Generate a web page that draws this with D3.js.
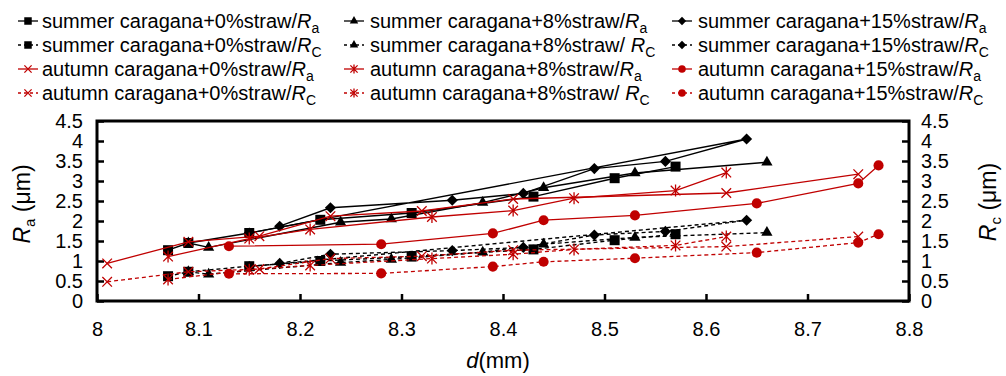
<!DOCTYPE html>
<html>
<head>
<meta charset="utf-8">
<script src="https://cdn.jsdelivr.net/npm/d3@7"></script>
<style>
  body { margin: 0; background: #fff; }
  svg { display: block; font-family: "Liberation Sans", Arial, sans-serif; }
</style>
</head>
<body>
<div id="chart"></div>
<script>
// d (mm) and roughness values, one list per series
const dSummer0 = [8.07, 8.09, 8.15, 8.22, 8.31, 8.43, 8.51, 8.57];
const raSummer0 = [1.27, 1.45, 1.70, 2.03, 2.20, 2.61, 3.07, 3.36];
const rcSummer0 = [0.62, 0.73, 0.87, 1.00, 1.11, 1.29, 1.52, 1.67];

const dSummer8 = [8.09, 8.11, 8.24, 8.29, 8.38, 8.44, 8.53, 8.66];
const raSummer8 = [1.45, 1.34, 1.97, 2.05, 2.46, 2.83, 3.20, 3.47];
const rcSummer8 = [0.73, 0.67, 0.96, 1.04, 1.22, 1.42, 1.59, 1.71];

const dSummer15 = [8.18, 8.23, 8.35, 8.42, 8.49, 8.56, 8.64, 8.15];
const raSummer15 = [1.87, 2.33, 2.52, 2.69, 3.31, 3.49, 4.05, 1.70];
const rcSummer15 = [0.94, 1.17, 1.26, 1.34, 1.65, 1.74, 2.02, 0.86];

const dAutumn0 = [8.01, 8.09, 8.16, 8.23, 8.32, 8.41, 8.62, 8.75];
const raAutumn0 = [0.94, 1.48, 1.62, 2.12, 2.25, 2.55, 2.70, 3.17];
const rcAutumn0 = [0.48, 0.73, 0.80, 1.06, 1.12, 1.27, 1.36, 1.61];

const dAutumn8 = [8.07, 8.15, 8.21, 8.33, 8.41, 8.47, 8.57, 8.62];
const raAutumn8 = [1.11, 1.56, 1.79, 2.10, 2.26, 2.57, 2.76, 3.21];
const rcAutumn8 = [0.54, 0.78, 0.89, 1.06, 1.17, 1.29, 1.39, 1.61];

const dAutumn15 = [8.13, 8.28, 8.39, 8.44, 8.53, 8.65, 8.75, 8.77];
const raAutumn15 = [1.37, 1.42, 1.69, 2.02, 2.14, 2.44, 2.94, 3.39];
const rcAutumn15 = [0.68, 0.69, 0.86, 0.98, 1.07, 1.21, 1.46, 1.67];

const xTicks = [8, 8.1, 8.2, 8.3, 8.4, 8.5, 8.6, 8.7, 8.8];
const yTicks = [0, 0.5, 1, 1.5, 2, 2.5, 3, 3.5, 4, 4.5];

const RED = "#c00000";

// series in legend order: columns are 0%, 8%, 15%; rows are summer Ra/Rc, autumn Ra/Rc
const series = [
  { season: "summer", pct: "0%",  sub: "a", d: dSummer0,  v: raSummer0,  color: "#000", dash: null, marker: "square" },
  { season: "summer", pct: "0%",  sub: "C", d: dSummer0,  v: rcSummer0,  color: "#000", dash: "4,3", marker: "square" },
  { season: "autumn", pct: "0%",  sub: "a", d: dAutumn0,  v: raAutumn0,  color: RED,    dash: null, marker: "x" },
  { season: "autumn", pct: "0%",  sub: "C", d: dAutumn0,  v: rcAutumn0,  color: RED,    dash: "4,3", marker: "x" },
  { season: "summer", pct: "8%",  sub: "a", d: dSummer8,  v: raSummer8,  color: "#000", dash: null, marker: "triangle" },
  { season: "summer", pct: "8%",  sub: "C", d: dSummer8,  v: rcSummer8,  color: "#000", dash: "4,3", marker: "triangle", gap: true },
  { season: "autumn", pct: "8%",  sub: "a", d: dAutumn8,  v: raAutumn8,  color: RED,    dash: null, marker: "star" },
  { season: "autumn", pct: "8%",  sub: "C", d: dAutumn8,  v: rcAutumn8,  color: RED,    dash: "4,3", marker: "star", gap: true },
  { season: "summer", pct: "15%", sub: "a", d: dSummer15, v: raSummer15, color: "#000", dash: null, marker: "diamond" },
  { season: "summer", pct: "15%", sub: "C", d: dSummer15, v: rcSummer15, color: "#000", dash: "4,3", marker: "diamond" },
  { season: "autumn", pct: "15%", sub: "a", d: dAutumn15, v: raAutumn15, color: RED,    dash: null, marker: "circle" },
  { season: "autumn", pct: "15%", sub: "C", d: dAutumn15, v: rcAutumn15, color: RED,    dash: "4,3", marker: "circle" }
];

const width = 1006, height = 376;
const plotLeft = 97, plotRight = 909, plotTop = 121, plotBottom = 301;

const svg = d3.select("#chart").append("svg")
  .attr("width", width)
  .attr("height", height);

const x = d3.scaleLinear().domain([8, 8.8]).range([plotLeft, plotRight]);
const y = d3.scaleLinear().domain([0, 4.5]).range([plotBottom, plotTop]);

// marker shapes
function markerPath(type, k) {
  if (type === "square") return d3.symbol(d3.symbolSquare, 100 * k * k)();
  if (type === "triangle") return d3.symbol(d3.symbolTriangle, 55 * k * k)();
  if (type === "diamond") return d3.symbol(d3.symbolSquare, 62 * k * k)();
  if (type === "circle") return d3.symbol(d3.symbolCircle, 80 * k * k)();
  const r = 4.8 * k;
  if (type === "x") return `M${-r},${-r}L${r},${r}M${-r},${r}L${r},${-r}`;
  const h = 6 * k;
  return `M${-r},${-r}L${r},${r}M${-r},${r}L${r},${-r}M0,${-h}L0,${h}`;
}
function drawMarker(g, s, cx, cy, k) {
  const p = g.append("path")
    .attr("d", markerPath(s.marker, k))
    .attr("transform", `translate(${cx},${cy})` + (s.marker === "diamond" ? " rotate(45)" : ""));
  if (s.marker === "x" || s.marker === "star") {
    p.attr("fill", "none").attr("stroke", s.color).attr("stroke-width", 1.3);
  } else {
    p.attr("fill", s.color);
  }
}

// axes with inward ticks
const fmt = d => String(d);
const axisFont = g => g.selectAll("text")
  .style("font-size", "20px")
  .style("fill", "#000");

svg.append("g")
  .attr("transform", `translate(${plotLeft},0)`)
  .call(d3.axisLeft(y).tickValues(yTicks).tickFormat(fmt).tickSize(-7).tickSizeOuter(0).tickPadding(14))
  .call(axisFont);

svg.append("g")
  .attr("transform", `translate(${plotRight},0)`)
  .call(d3.axisRight(y).tickValues(yTicks).tickFormat(fmt).tickSize(-7).tickSizeOuter(0).tickPadding(12))
  .call(axisFont);

svg.append("g")
  .attr("transform", `translate(0,${plotBottom})`)
  .call(d3.axisBottom(x).tickValues(xTicks).tickFormat(fmt).tickSize(-7).tickSizeOuter(0).tickPadding(21))
  .call(axisFont);

svg.selectAll(".domain").remove();
svg.selectAll(".tick line").attr("stroke", "#000").attr("stroke-width", 2.5);

// plot frame
svg.append("rect")
  .attr("x", plotLeft).attr("y", plotTop)
  .attr("width", plotRight - plotLeft).attr("height", plotBottom - plotTop)
  .attr("fill", "none")
  .attr("stroke", "#000")
  .attr("stroke-width", 3);

// series lines then markers
const line = d3.line().x(d => x(d[0])).y(d => y(d[1]));
const plot = svg.append("g");
series.slice().sort((a, b) => (a.color === RED) - (b.color === RED)).forEach(s => {
  const pts = s.d.map((d, i) => [d, s.v[i]]);
  plot.append("path")
    .datum(pts)
    .attr("d", line)
    .attr("fill", "none")
    .attr("stroke", s.color)
    .attr("stroke-width", s.color === RED ? 1.3 : 1.4)
    .attr("stroke-dasharray", s.dash);
  pts.forEach(p => drawMarker(plot, s, x(p[0]), y(p[1]), 1));
});

// legend: 3 columns x 4 rows
const colSym = [28, 354, 682];
const colText = [42, 370, 698];
const rowY = [21, 45, 69, 93];
series.forEach((s, i) => {
  const c = Math.floor(i / 4), r = i % 4;
  const g = svg.append("g");
  g.append("line")
    .attr("x1", colSym[c] - 10).attr("x2", colSym[c] + 10)
    .attr("y1", rowY[r]).attr("y2", rowY[r])
    .attr("stroke", s.color)
    .attr("stroke-width", 1.3)
    .attr("stroke-dasharray", s.dash ? "3,3" : null);
  drawMarker(g, s, colSym[c], rowY[r], 0.75);
  const t = g.append("text")
    .attr("x", colText[c]).attr("y", rowY[r] + 7)
    .style("font-size", "20px")
    .text(`${s.season} caragana+${s.pct}straw/${s.gap ? " " : ""}`);
  t.append("tspan").style("font-style", "italic").text("R");
  t.append("tspan").attr("dy", 5).style("font-size", "14px").text(s.sub);
});

// axis titles
svg.append("text")
  .attr("x", 498).attr("y", 368)
  .attr("text-anchor", "middle")
  .style("font-size", "22px")
  .call(t => {
    t.append("tspan").style("font-style", "italic").text("d");
    t.append("tspan").text("(mm)");
  });

svg.append("text")
  .attr("transform", "translate(30,204) rotate(-90)")
  .attr("text-anchor", "middle")
  .style("font-size", "23px")
  .call(t => {
    t.append("tspan").style("font-style", "italic").text("R");
    t.append("tspan").attr("dy", 5).style("font-size", "15px").text("a");
    t.append("tspan").attr("dy", -5).text(" (μm)");
  });

svg.append("text")
  .attr("transform", "translate(996,202) rotate(-90)")
  .attr("text-anchor", "middle")
  .style("font-size", "23px")
  .call(t => {
    t.append("tspan").style("font-style", "italic").text("R");
    t.append("tspan").attr("dy", 5).style("font-size", "15px").text("c");
    t.append("tspan").attr("dy", -5).text(" (μm)");
  });
</script>
</body>
</html>
